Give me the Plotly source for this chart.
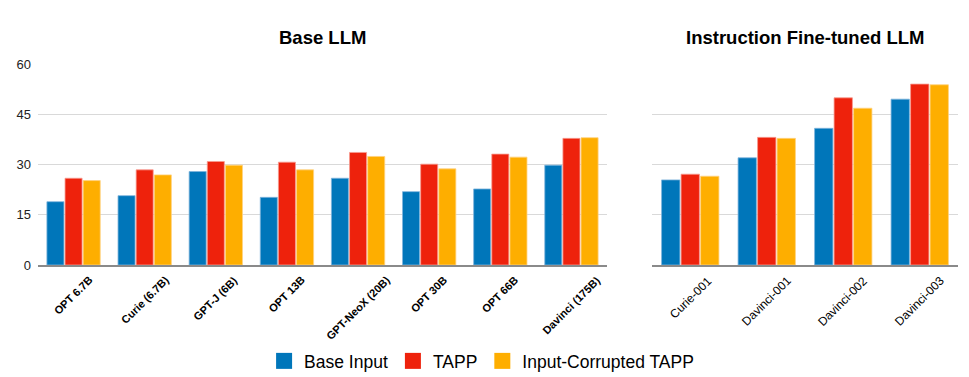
import plotly.graph_objects as go

# data
base_models = ["OPT 6.7B", "Curie (6.7B)", "GPT-J (6B)", "OPT 13B",
               "GPT-NeoX (20B)", "OPT 30B", "OPT 66B", "Davinci (175B)"]
base_input = [18.9, 20.7, 27.9, 20.2, 25.9, 21.9, 22.7, 29.8]
base_tapp = [25.9, 28.4, 30.9, 30.7, 33.6, 30.1, 33.1, 37.8]
base_corrupt = [25.2, 26.9, 29.8, 28.4, 32.4, 28.7, 32.2, 38.0]

inst_models = ["Curie-001", "Davinci-001", "Davinci-002", "Davinci-003"]
inst_input = [25.4, 32.0, 40.8, 49.5]
inst_tapp = [27.1, 38.1, 49.9, 54.0]
inst_corrupt = [26.5, 37.8, 46.8, 53.8]

y_ticks = [0, 15, 30, 45, 60]

series = ["Base Input", "TAPP", "Input-Corrupted TAPP"]
colors = ["#0076BA", "#EE220C", "#FEAE00"]
edges = ["#7fb4dc", "#f79a8f", "#ffd27f"]

FONT = "Liberation Sans, Arial, Helvetica, sans-serif"

fig = go.Figure()

left = [base_input, base_tapp, base_corrupt]
right = [inst_input, inst_tapp, inst_corrupt]
for name, col, edge, lv, rv in zip(series, colors, edges, left, right):
    fig.add_trace(go.Bar(x=base_models, y=lv, name=name, marker_color=col,
                         marker_line=dict(color=edge, width=0.8),
                         xaxis="x", yaxis="y", showlegend=False))
    fig.add_trace(go.Bar(x=inst_models, y=rv, name=name, marker_color=col,
                         marker_line=dict(color=edge, width=0.8),
                         xaxis="x2", yaxis="y2", showlegend=False))
    # legend entry with a bigger square swatch
    fig.add_trace(go.Scatter(x=[None], y=[None], mode="markers", name=name,
                             marker=dict(symbol="square", size=16, color=col),
                             xaxis="x", yaxis="y"))

W, H = 969, 377
PL, PR, PT, PB = 38, 11, 64, 112
PW = W - PL - PR

axis_common = dict(showline=True, linecolor="#8a8a8a", linewidth=1.5,
                   ticks="", showticklabels=False, automargin=False,
                   fixedrange=True)
yaxis_common = dict(range=[0, 60], tickvals=y_ticks, showgrid=True,
                    gridcolor="#d9d9d9", gridwidth=1, zeroline=False,
                    showline=False, fixedrange=True, automargin=False)

annotations = [
    dict(text="<b>Base LLM</b>", x=322 / W, y=1 - 38 / H),
    dict(text="<b>Instruction Fine-tuned LLM</b>", x=805 / W, y=1 - 38 / H),
]
for a in annotations:
    # whole-figure fractions -> paper fractions
    a.update(x=(a["x"] * W - PL) / PW,
             y=(a["y"] * H - PB) / (H - PT - PB),
             xref="paper", yref="paper", showarrow=False,
             xanchor="center", yanchor="middle",
             font=dict(family=FONT, size=18.5))

# category labels rotated about their centre, hanging under the axis
for xr, cats, wt, sz in (("x", base_models, "bold", 11),
                         ("x2", inst_models, "normal", 12)):
    for c in cats:
        annotations.append(dict(
            text=c, x=c, xref=xr, y=0, yref="paper", yshift=-6,
            xanchor="center", yanchor="top", textangle=-45,
            showarrow=False,
            font=dict(family=FONT, size=sz, color="#000", weight=wt)))

fig.update_layout(
    width=W, height=H,
    margin=dict(l=PL, r=PR, t=PT, b=PB, autoexpand=False),
    paper_bgcolor="white", plot_bgcolor="white",
    barmode="group", bargap=0.235, bargroupgap=0.06,
    font=dict(family=FONT, color="#000"),
    xaxis=dict(domain=[0, (607 - PL) / PW], anchor="y", **axis_common),
    xaxis2=dict(domain=[(652 - PL) / PW, 1], anchor="y2", **axis_common),
    yaxis=dict(domain=[0, 1], anchor="x", showticklabels=True,
               tickfont=dict(family=FONT, size=13, color="#222"),
               ticklabelstandoff=6, **yaxis_common),
    yaxis2=dict(domain=[0, 1], anchor="x2", showticklabels=False,
                **yaxis_common),
    legend=dict(orientation="h", x=0.497, xref="container", xanchor="center",
                y=1 - 361 / H, yref="container", yanchor="middle",
                font=dict(family=FONT, size=17.5), tracegroupgap=0),
    annotations=annotations,
)

# drop the browser's default body margin so the figure sits at the corner
fig.write_html("out.html", config={"displayModeBar": False},
               post_script="document.body.style.margin='0';")
